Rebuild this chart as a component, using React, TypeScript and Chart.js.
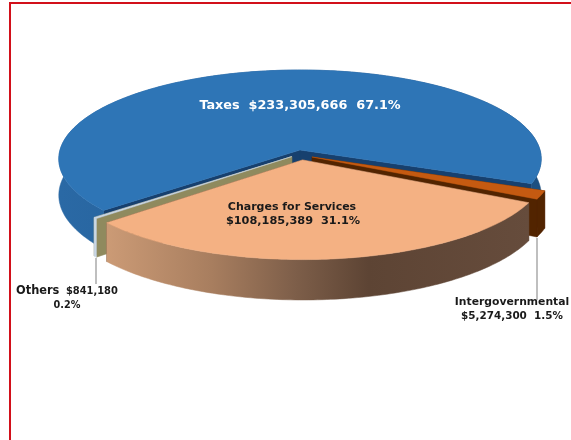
import React, { useEffect, useRef } from "react";
import { Chart, registerables } from "chart.js";

Chart.register(...registerables);

// Revenue by source, drawn clockwise starting from the left edge of the Taxes slice.
const categories = ["Taxes", "Intergovernmental", "Charges for Services", "Others"];
const amounts = [233305666, 5274300, 108185389, 841180];
const shares = ["67.1%", "1.5%", "31.1%", "0.2%"];
const amountLabels = ["$233,305,666", "$5,274,300", "$108,185,389", "$841,180"];
const sliceOffsets = [0, 11, 18, 9];
const sliceDrops = [0, 5, 2, 4];
const topColors = ["#2e75b6", "#c55a11", "#f4b183", "#c9d7e6"];

const BASE_RADIUS = 200;
// View of the tilted disc: centre, half width, vertical half axis, perspective, thickness.
const CX = 300;
const CY = 150;
const RX = 240;
const KY = 88;
const PERSPECTIVE = 0.1;
const THICKNESS = 36;

type Pt = [number, number];

function project(u: number, v: number, depth: number, drop = 0): Pt {
  const w = 1 / (1 - PERSPECTIVE * v);
  return [CX + RX * u * w, CY + drop + (KY * v + depth * THICKNESS) * w];
}

function fillPoly(ctx: CanvasRenderingContext2D, pts: Pt[], fill: string | CanvasGradient) {
  ctx.beginPath();
  pts.forEach((p, i) => (i ? ctx.lineTo(p[0], p[1]) : ctx.moveTo(p[0], p[1])));
  ctx.closePath();
  ctx.fillStyle = fill;
  ctx.fill();
  ctx.strokeStyle = fill;
  ctx.lineWidth = 0.5;
  ctx.stroke();
}

function hGradient(ctx: CanvasRenderingContext2D, x0: number, x1: number, stops: [number, string][]) {
  const g = ctx.createLinearGradient(x0, 0, x1, 0);
  stops.forEach(([o, c]) => g.addColorStop(o, c));
  return g;
}

// Extruded slices, painted back to front from the arc geometry the pie controller computed.
const discPlugin = {
  id: "tiltedDisc",
  beforeDatasetsDraw(chart: any) {
    const ctx: CanvasRenderingContext2D = chart.ctx;
    const arcs = chart.getDatasetMeta(0).data;
    const wallFills: (string | CanvasGradient)[] = [
      hGradient(ctx, 60, 545, [[0, "#2a69a5"], [0.5, "#235a90"], [1, "#1c4f80"]]),
      "#522400",
      hGradient(ctx, 105, 530, [[0, "#cc9b76"], [0.25, "#a87e5f"], [0.45, "#7d5e49"], [0.62, "#5d4434"], [1, "#664c3c"]]),
      "#c9d7e6",
    ];
    const cutFills = ["#17406e", "#522400", "#5f4535", "#8f8a5e"];
    [0, 3, 1, 2].forEach((i) => {
      const arc = arcs[i];
      const r = arc.outerRadius;
      const mid = (arc.startAngle + arc.endAngle) / 2;
      const off = (arc.options.offset || 0) / r;
      const ox = Math.cos(mid) * off;
      const oy = Math.sin(mid) * off;
      const drop = sliceDrops[i];
      const rim = (depth: number) => {
        const pts: Pt[] = [];
        const n = Math.max(4, Math.ceil((arc.endAngle - arc.startAngle) * 60));
        for (let k = 0; k <= n; k++) {
          const t = arc.startAngle + ((arc.endAngle - arc.startAngle) * k) / n;
          pts.push(project(ox + Math.cos(t), oy + Math.sin(t), depth, drop));
        }
        return pts;
      };
      const apexTop = project(ox, oy, 0, drop);
      const apexLow = project(ox, oy, 1, drop);
      const top = rim(0);
      const low = rim(1);
      // Cut faces running from the centre out to the rim.
      fillPoly(ctx, [apexTop, top[0], low[0], apexLow], cutFills[i]);
      fillPoly(ctx, [apexTop, top[top.length - 1], low[low.length - 1], apexLow], cutFills[i]);
      // Curved outer wall.
      fillPoly(ctx, [...top, ...low.slice().reverse()], wallFills[i]);
      // Upper face.
      fillPoly(ctx, [apexTop, ...top], topColors[i]);
    });
    return false;
  },
  afterDraw(chart: any) {
    const ctx: CanvasRenderingContext2D = chart.ctx;
    ctx.save();
    // Leader lines to the two outside labels.
    ctx.strokeStyle = "#bfbfbf";
    ctx.lineWidth = 2;
    ctx.beginPath();
    ctx.moveTo(96, 258);
    ctx.lineTo(96, 284);
    ctx.moveTo(537, 238);
    ctx.lineTo(537, 300);
    ctx.stroke();

    ctx.textBaseline = "middle";
    const text = (s: string, x: number, y: number, color: string, size: number, align: CanvasTextAlign = "center") => {
      ctx.font = `bold ${size}px "DejaVu Sans"`;
      ctx.fillStyle = color;
      ctx.textAlign = align;
      ctx.fillText(s, x, y);
    };
    text(`${categories[0]}  ${amountLabels[0]}  ${shares[0]}`, 300, 106, "#ffffff", 12.8);
    text(categories[2], 292, 207, "#1a1a1a", 11);
    text(`${amountLabels[2]}  ${shares[2]}`, 293, 221, "#1a1a1a", 11.3);
    text(categories[1], 512, 302, "#1a1a1a", 10.8);
    text(`${amountLabels[1]}  ${shares[1]}`, 512, 316, "#1a1a1a", 10.4);
    text(categories[3], 16, 291, "#1a1a1a", 11.4, "left");
    text(amountLabels[3], 66, 291, "#1a1a1a", 9.9, "left");
    text(shares[3], 67, 305, "#1a1a1a", 9.7);
    ctx.restore();
  },
};

export default function App() {
  const canvasRef = useRef<HTMLCanvasElement | null>(null);

  useEffect(() => {
    if (!canvasRef.current) return;
    const chart = new Chart(canvasRef.current, {
      type: "pie",
      data: {
        labels: categories,
        datasets: [
          {
            data: amounts,
            backgroundColor: topColors,
            offset: sliceOffsets,
            borderWidth: 0,
            radius: BASE_RADIUS,
          },
        ],
      },
      options: {
        responsive: false,
        animation: false,
        rotation: 230,
        layout: { padding: 0 },
        plugins: { legend: { display: false }, tooltip: { enabled: false } },
      },
      plugins: [discPlugin],
    } as any);
    return () => chart.destroy();
  }, []);

  return (
    <div style={{ position: "fixed", left: 0, top: 0, width: 571, height: 440, background: "#ffffff", overflow: "hidden" }}>
      <canvas ref={canvasRef} width={571} height={440} style={{ display: "block" }} />
      <div style={{ position: "absolute", left: 9, top: 2, width: 562, height: 2, background: "#d2101a" }} />
      <div style={{ position: "absolute", left: 9, top: 2, width: 2, height: 438, background: "#d2101a" }} />
    </div>
  );
}
